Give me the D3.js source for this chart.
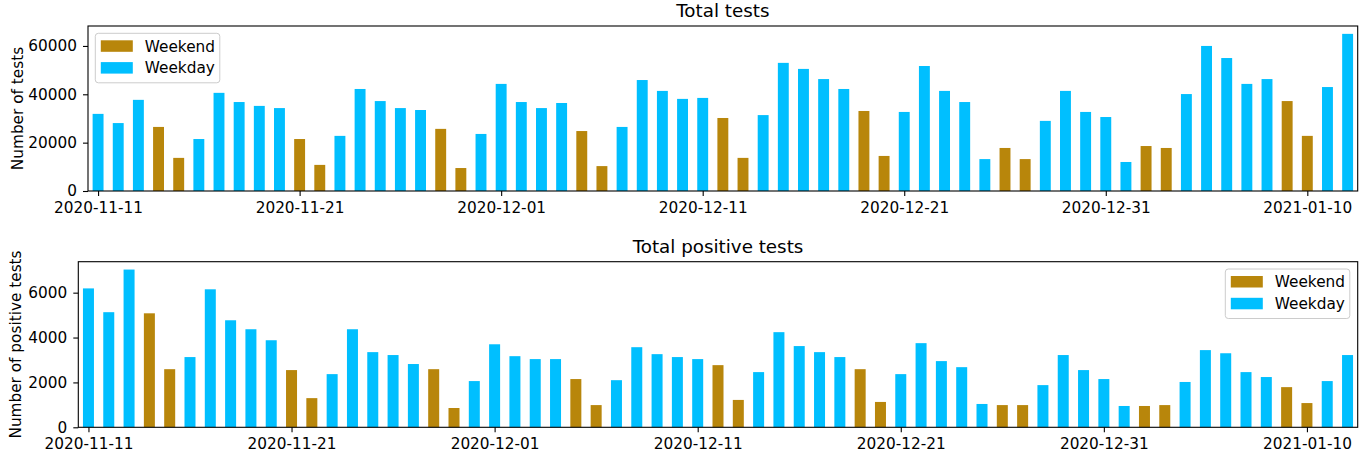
<!DOCTYPE html>
<html>
<head>
<meta charset="utf-8">
<script src="https://cdn.jsdelivr.net/npm/d3@7"></script>
<style>
  body { margin: 0; background: #fff; }
  svg { display: block; font-family: "DejaVu Sans", sans-serif; }
</style>
</head>
<body>
<div id="chart"></div>
<script>
// dates are daily, 2020-11-11 .. 2021-01-12
const startDate = '2020-11-11';
const dayCount = 63;
const tickDates = ['2020-11-11', '2020-11-21', '2020-12-01', '2020-12-11', '2020-12-21', '2020-12-31', '2021-01-10'];

const totalTests = [
  31900, 28100, 37700, 26500, 13700, 21500, 40600, 36800, 35200, 34300,
  21500, 10800, 22800, 42200, 37200, 34300, 33500, 25700, 9500, 23600,
  44300, 36800, 34300, 36400, 24800, 10300, 26500, 45900, 41400, 38100,
  38500, 30200, 13700, 31400, 53000, 50500, 46300, 42200, 33100, 14500,
  32700, 51700, 41400, 36800, 13200, 17800, 13200, 29000, 41400, 32700,
  30600, 12000, 18600, 17800, 40100, 60000, 55000, 44300, 46300, 37200,
  22800, 43000, 65000
];
const positiveTests = [
  6190, 5130, 7030, 5080, 2590, 3130, 6150, 4770, 4370, 3880,
  2550, 1300, 2370, 4370, 3350, 3220, 2820, 2590, 860, 2060,
  3700, 3170, 3040, 3040, 2150, 990, 2100, 3570, 3260, 3130,
  3040, 2770, 1220, 2460, 4240, 3620, 3350, 3130, 2590, 1130,
  2370, 3750, 2950, 2680, 1040, 990, 990, 1880, 3220, 2550,
  2150, 950, 950, 990, 2020, 3440, 3300, 2460, 2240, 1790,
  1080, 2060, 3220
];
const legendLabels = ['Weekend', 'Weekday'];
const colors = { Weekend: '#B8860B', Weekday: '#00BFFF' };

const W = 1372, H = 458;
const parse = d3.utcParse('%Y-%m-%d');
const day0 = parse(startDate);
const dates = d3.range(dayCount).map(i => d3.utcDay.offset(day0, i));
const kind = d => (d.getUTCDay() === 0 || d.getUTCDay() === 6) ? 'Weekend' : 'Weekday';

const svg = d3.select('#chart').append('svg')
  .attr('width', W).attr('height', H);

function panel(opt) {
  const { left, right, top, bottom, values, ymax, yticks, title, ylabel, ylabelX, legendPos } = opt;
  const g = svg.append('g');

  const x = d3.scaleUtc()
    .domain([d3.utcHour.offset(dates[0], -12), d3.utcHour.offset(dates[dates.length - 1], 12)])
    .range([left, right]);
  const y = d3.scaleLinear().domain([0, ymax]).range([bottom, top]);
  const bw = x(d3.utcHour.offset(dates[0], 13.2)) - x(dates[0]);

  g.selectAll('rect.bar').data(values).join('rect')
    .attr('class', 'bar')
    .attr('x', (v, i) => x(dates[i]) - bw / 2)
    .attr('width', bw)
    .attr('y', v => y(v))
    .attr('height', v => y(0) - y(v))
    .attr('fill', (v, i) => colors[kind(dates[i])]);

  const xAxis = d3.axisBottom(x)
    .tickValues(tickDates.map(parse))
    .tickFormat(d3.utcFormat('%Y-%m-%d'))
    .tickSize(5).tickPadding(6);
  const xg = g.append('g').attr('transform', `translate(0,${bottom})`).call(xAxis);

  const yAxis = d3.axisLeft(y).tickValues(yticks).tickFormat(d3.format('d'))
    .tickSize(5).tickPadding(6);
  const yg = g.append('g').attr('transform', `translate(${left},0)`).call(yAxis);

  [xg, yg].forEach(a => {
    a.select('.domain').remove();
    a.selectAll('line').attr('stroke', '#000').attr('stroke-width', 1.1);
    a.selectAll('text').attr('fill', '#000').style('font-size', '15.3px')
      .style('font-family', '"DejaVu Sans", sans-serif');
  });

  g.append('rect')
    .attr('x', left).attr('y', top)
    .attr('width', right - left).attr('height', bottom - top)
    .attr('fill', 'none').attr('stroke', '#000').attr('stroke-width', 1.1);

  g.append('text')
    .attr('x', (left + right) / 2).attr('y', top - 9)
    .attr('text-anchor', 'middle').style('font-size', '18.3px')
    .text(title);

  g.append('text')
    .attr('transform', `translate(${ylabelX},${(top + bottom) / 2}) rotate(-90)`)
    .attr('text-anchor', 'middle').style('font-size', '15.3px')
    .text(ylabel);

  // legend
  const lg = g.append('g').attr('transform', `translate(${legendPos[0]},${legendPos[1]})`);
  lg.append('rect')
    .attr('width', 124.5).attr('height', 49.5).attr('rx', 3)
    .attr('fill', '#fff').attr('fill-opacity', 0.8)
    .attr('stroke', '#ccc').attr('stroke-width', 1);
  legendLabels.forEach((k, i) => {
    lg.append('rect')
      .attr('x', 5.5).attr('y', 7 + i * 21.8)
      .attr('width', 32).attr('height', 11.5)
      .attr('fill', colors[k]);
    lg.append('text')
      .attr('x', 49.5).attr('y', 18.3 + i * 21.8)
      .style('font-size', '15.3px')
      .text(k);
  });
}

panel({
  left: 88, right: 1357.7, top: 26, bottom: 191,
  values: totalTests, ymax: 68250, yticks: [0, 20000, 40000, 60000],
  title: 'Total tests', ylabel: 'Number of tests', ylabelX: 23,
  legendPos: [95.3, 33.3]
});

panel({
  left: 78.3, right: 1357.7, top: 261.7, bottom: 427.3,
  values: positiveTests, ymax: 7380, yticks: [0, 2000, 4000, 6000],
  title: 'Total positive tests', ylabel: 'Number of positive tests', ylabelX: 21,
  legendPos: [1225.3, 269]
});
</script>
</body>
</html>
